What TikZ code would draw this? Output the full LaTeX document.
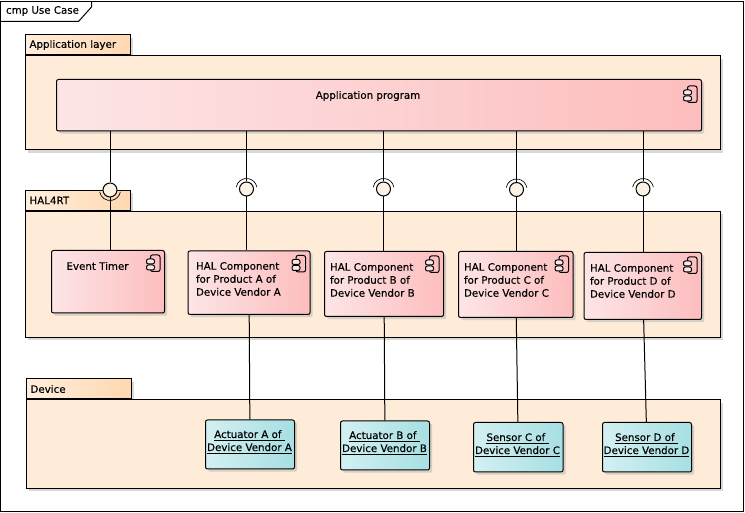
\documentclass[tikz,border=0pt]{standalone}
\usepackage{xcolor}
\usepackage{fontspec}
\setmainfont{DejaVu Sans}[FakeBold=0.25]
\usetikzlibrary{shadows}
\definecolor{pkgfill}{HTML}{FEEBD8}
\definecolor{tableft}{HTML}{FFEEDC}
\definecolor{tabright}{HTML}{FFD8B1}
\definecolor{compleft}{HTML}{FDE5E6}
\definecolor{compright}{HTML}{FDBDBE}
\definecolor{devleft}{HTML}{D3F0F1}
\definecolor{devright}{HTML}{A6DFE3}
\definecolor{ballfill}{HTML}{FBF1E4}
\tikzset{
  boxsize/.style 2 args={minimum width=#1*0.75pt,minimum height=#2*0.75pt},
  softshadow/.style={drop shadow={shadow xshift=2pt,shadow yshift=-2pt,fill=black!30,opacity=0.5}},
  pkgbody/.style={draw,fill=pkgfill,anchor=north west,inner sep=0pt,softshadow},
  pkgtab/.style={draw,left color=tableft,right color=tabright,anchor=south west,inner ysep=0pt,inner xsep=3pt,
    text width=72.75pt,minimum height=15pt,align=left,softshadow,font=\fontsize{7.7}{9.75}\selectfont},
  compbox/.style={draw,rounded corners=1.5pt,left color=compleft,right color=compright,anchor=north west,inner sep=0pt,softshadow},
  devbox/.style={draw,rounded corners=1.5pt,left color=devleft,right color=devright,anchor=north west,inner sep=0pt,softshadow},
  boxtext/.style={align=center,inner sep=0pt,font=\fontsize{7.7}{9.75}\selectfont},
  haltext/.style={boxtext,align=left,anchor=west},
  ball/.style={draw,circle,fill=ballfill,minimum size=10.5pt,inner sep=0pt},
  compicon/.pic={
    \draw[rounded corners=1.5pt] (-9.5,-4) -- (-9.5,0) -- (0,0) -- (0,-16.5) -- (-9.5,-16.5) -- (-9.5,-12);
    \draw[rounded corners=1.5pt,fill=compleft] (-13.5,-4) rectangle (-5.5,-9);
    \draw[rounded corners=1.5pt,fill=compleft] (-13.5,-10) rectangle (-5.5,-15);
  }
}
\begin{document}
\begin{tikzpicture}[x=0.75pt,y=0.75pt,line width=0.75pt]
\useasboundingbox (0.5,0) rectangle (745.5,513);
% frame
\draw (1.5,1) rectangle (744,511.5);
\draw (1.5,491.5) -- (79,491.5) -- (92,506) -- (92,511.5);
\node[boxtext,anchor=west] (frametag) at (6,502) {cmp Use Case};
% packages
\node[pkgtab,anchor=south west] (apptab) at (25.5,457.5) {Application layer};
\node[pkgbody,boxsize={694.5}{94}] (applayer) at (25.5,457.5) {};
\node[pkgtab,anchor=south west] (haltab) at (25.5,302) {HAL4RT};
\node[pkgbody,boxsize={694.5}{126}] (hallayer) at (25.5,302) {};
\node[pkgtab,anchor=south west] (devtab) at (26.5,113.5) {Device};
\node[pkgbody,boxsize={694}{88.5}] (devlayer) at (26.5,113.5) {};
% components
\node[compbox,boxsize={645}{51.5}] (app) at (56.5,434) {};
\node[compbox,boxsize={113}{62.5}] (timer) at (51.5,263) {};
\node[compbox,boxsize={122}{63.5}] (halA) at (188,262.5) {};
\node[compbox,boxsize={119}{65}] (halB) at (324.5,262) {};
\node[compbox,boxsize={114.5}{66}] (halC) at (458.5,262) {};
\node[compbox,boxsize={117.5}{67}] (halD) at (584,261) {};
\foreach \n in {timer,halA,halB,halC,halD}
  \pic at ([xshift=-3.75pt,yshift=-3.75pt]\n.north east) {compicon};
\pic at ([xshift=-3.75pt,yshift=-5.25pt]app.north east) {compicon};
% devices
\node[devbox,boxsize={89}{49}] (actA) at (205.5,93.5) {};
\node[devbox,boxsize={89}{49}] (actB) at (340.5,92.5) {};
\node[devbox,boxsize={89.5}{49.5}] (senC) at (473.5,91) {};
\node[devbox,boxsize={89}{49.5}] (senD) at (602.5,91) {};
% texts
\node[boxtext] (apptext) at (368.5,417) {Application program};
\node[boxtext] (timertext) at (98,247) {Event Timer};
\node[haltext] (halAtext) at (196,234) {HAL Component\\for Product A of\\Device Vendor A};
\node[haltext] (halBtext) at (330,233) {HAL Component\\for Product B of\\Device Vendor B};
\node[haltext] (halCtext) at (464,233) {HAL Component\\for Product C of\\Device Vendor C};
\node[haltext] (halDtext) at (590,232) {HAL Component\\for Product D of\\Device Vendor D};
\node[boxtext] (actAtext) at (250,71) {\underline{Actuator A of\ }\\\underline{Device Vendor A}};
\node[boxtext] (actBtext) at (385,70) {\underline{Actuator B of\ }\\\underline{Device Vendor B}};
\node[boxtext] (senCtext) at (518,68) {\underline{Sensor C of\ }\\\underline{Device Vendor C}};
\node[boxtext] (senDtext) at (647,68) {\underline{Sensor D of\ }\\\underline{Device Vendor D}};
% interfaces
\node[ball] (ballT) at (110.5,323) {};
\node[ball] (ballA) at (247,324) {};
\node[ball] (ballB) at (384,324) {};
\node[ball] (ballC) at (517,323.5) {};
\node[ball] (ballD) at (643.5,324) {};
\draw (app.south -| ballT) -- (ballT);
\draw (ballT) -- (timer.north -| ballT);
\draw[line width=0.5pt] ([shift={(190:10.5)}]ballT.center) arc (190:350:10.5);
\foreach \n in {A,B,C,D} {
  \draw (app.south -| ball\n) -- (ball\n);
  \draw (ball\n) -- (hal\n.north -| ball\n);
  \draw[line width=0.5pt] ([shift={(170:10.5)}]ball\n.center) arc (170:10:10.5);
}
% realisation lines
\draw (halA) -- (actA);
\draw (halB) -- (actB);
\draw (halC) -- (senC);
\draw (halD) -- (senD);
\end{tikzpicture}
\end{document}
